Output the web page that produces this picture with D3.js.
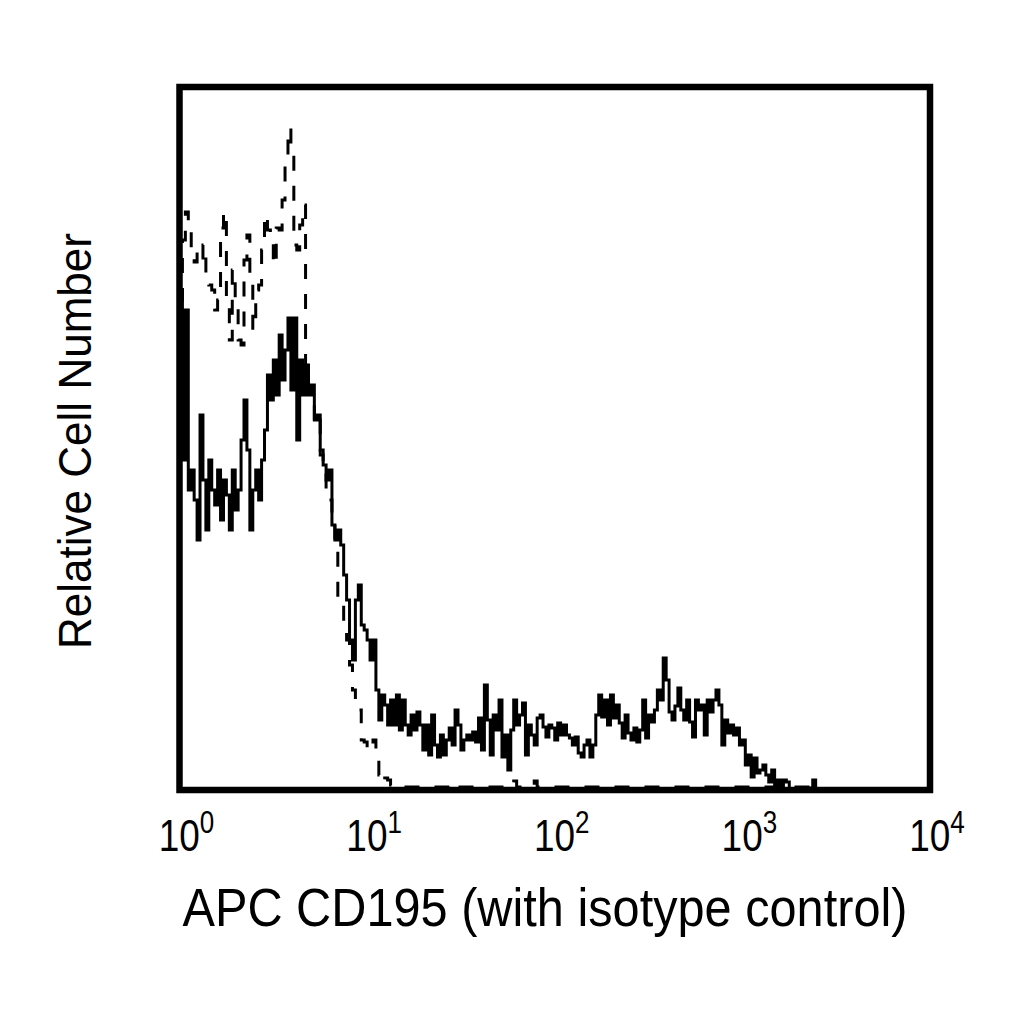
<!DOCTYPE html>
<html>
<head>
<meta charset="utf-8">
<script src="https://cdn.jsdelivr.net/npm/d3@7/dist/d3.min.js"></script>
<style>
  html, body { margin: 0; padding: 0; background: #fff; }
  svg { display: block; }
  text { font-family: "Liberation Sans", Arial, sans-serif; fill: #000; }
</style>
</head>
<body>
<svg id="chart" width="1024" height="1024"></svg>
<script>
// ---- data (256 log channels spanning 10^0 .. 10^4) ----
const decades = 4;
const nChannels = 256;
const tickValues = [1, 10, 100, 1000, 10000];
const tickExponents = ["0", "1", "2", "3", "4"];
const xTitle = "APC CD195 (with isotype control)";
const yTitle = "Relative Cell Number";

// APC CD195 stained sample (solid line), relative counts per channel
const stainedCounts = [
  500,330,480,300,320,290,250,375,310,260,330,300,285,320,270,310,
  295,260,320,280,300,350,390,340,260,300,320,290,330,360,415,390,
  430,395,455,410,440,472,400,472,350,430,395,425,395,405,370,375,
  335,325,310,320,265,250,260,245,215,190,150,130,190,205,165,160,
  150,130,150,100,70,95,85,65,90,65,95,60,90,65,55,75,
  60,78,65,40,65,35,75,45,33,55,35,50,62,45,80,65,
  40,50,55,50,58,48,72,40,105,70,35,75,60,90,33,55,
  20,60,90,65,75,87,35,65,55,45,72,75,63,53,65,62,
  50,67,55,65,55,52,45,53,37,33,45,50,33,45,75,95,
  73,90,65,95,72,85,67,52,75,57,50,62,48,60,90,52,
  75,68,80,100,90,132,110,78,70,84,102,80,70,90,68,53,
  90,80,85,55,90,78,90,100,85,45,70,57,65,55,62,45,
  50,25,35,13,32,17,20,25,15,8,20,5,10,2,10,8,
  0,0,0,0,0,0,0,2,10,0,0,0,0,0,0,0,
  0,0,0,0,0,0,0,0,0,0,0,0,0,0,0,0,
  0,0,0,0,0,0,0,0,0,0,0,0,0,0,0,0
];

// isotype control (dashed line), relative counts per channel
const isotypeCounts = [
  490,550,578,560,540,528,540,532,545,510,505,500,480,490,562,578,
  490,450,520,490,450,445,530,555,510,460,500,505,540,575,560,550,
  525,562,560,590,625,662,635,545,540,565,585,420,400,390,365,370,
  340,320,300,290,270,245,190,190,165,150,125,100,90,80,50,48,
  40,45,50,30,15,8,12,10,5,3,3,3,3,3,3,3,
  3,3,3,3,3,3,3,3,3,3,3,3,6,3,3,3,
  3,3,3,3,3,3,3,3,3,3,3,3,3,3,3,3,
  3,3,9,3,3,3,3,3,3,9,3,3,3,3,3,3,
  3,3,3,3,3,3,3,3,3,3,3,3,3,3,3,3,
  3,3,3,3,3,3,3,3,3,3,3,3,3,3,3,3,
  3,3,3,3,3,3,3,3,3,3,3,3,3,3,3,3,
  3,3,3,3,3,3,3,3,3,3,3,3,3,3,3,3,
  3,3,3,3,3,3,3,3,3,3,3,3,3,3,3,3,
  3,3,3,3,3,3,3,3,0,0,0,0,0,0,0,0,
  0,0,0,0,0,0,0,0,0,0,0,0,0,0,0,0,
  0,0,0,0,0,0,0,0,0,0,0,0,0,0,0,0
];

// ---- layout ----
const svg = d3.select("#chart");
const plotL = 179.5, plotR = 930, plotT = 87, plotB = 790;

const x = d3.scaleLog().domain([1, 10000]).range([plotL, plotR]);
const y = d3.scaleLinear().domain([0, 703]).range([plotB, plotT]);

const edge = i => Math.pow(10, decades * i / nChannels);

function stepPoints(counts) {
  const pts = counts.map((c, i) => [edge(i), c]);
  pts.push([edge(counts.length), 0]);
  return pts;
}

const line = d3.line()
  .x(d => x(d[0]))
  .y(d => y(d[1]))
  .curve(d3.curveStepAfter);

svg.append("defs").append("clipPath").attr("id", "plotClip")
  .append("rect")
  .attr("x", plotL).attr("y", plotT)
  .attr("width", plotR - plotL).attr("height", plotB - plotT);

const g = svg.append("g").attr("clip-path", "url(#plotClip)");

g.append("path")
  .attr("d", line(stepPoints(isotypeCounts)))
  .attr("fill", "none")
  .attr("stroke", "#000")
  .attr("stroke-width", 3)
  .attr("stroke-dasharray", "15,15");

g.append("path")
  .attr("d", line(stepPoints(stainedCounts)))
  .attr("fill", "none")
  .attr("stroke", "#000")
  .attr("stroke-width", 3);

// frame
svg.append("rect")
  .attr("x", plotL).attr("y", plotT)
  .attr("width", plotR - plotL).attr("height", plotB - plotT)
  .attr("fill", "none")
  .attr("stroke", "#000")
  .attr("stroke-width", 6.5);

// tick labels (10^n)
tickValues.forEach((v, i) => {
  const lg = svg.append("g")
    .attr("transform", `translate(${x(v) + 7},851) scale(0.84,1)`);
  const t = lg.append("text").attr("text-anchor", "middle");
  t.append("tspan").attr("font-size", 44).text("10");
  t.append("tspan").attr("font-size", 31).attr("dy", -18).text(tickExponents[i]);
});

// axis titles
svg.append("text")
  .attr("x", 545).attr("y", 926)
  .attr("text-anchor", "middle")
  .attr("font-size", 53)
  .attr("textLength", 725)
  .attr("lengthAdjust", "spacingAndGlyphs")
  .text(xTitle);

svg.append("text")
  .attr("transform", "translate(91,441) rotate(-90)")
  .attr("text-anchor", "middle")
  .attr("font-size", 46)
  .attr("textLength", 416)
  .attr("lengthAdjust", "spacingAndGlyphs")
  .text(yTitle);
</script>
</body>
</html>
